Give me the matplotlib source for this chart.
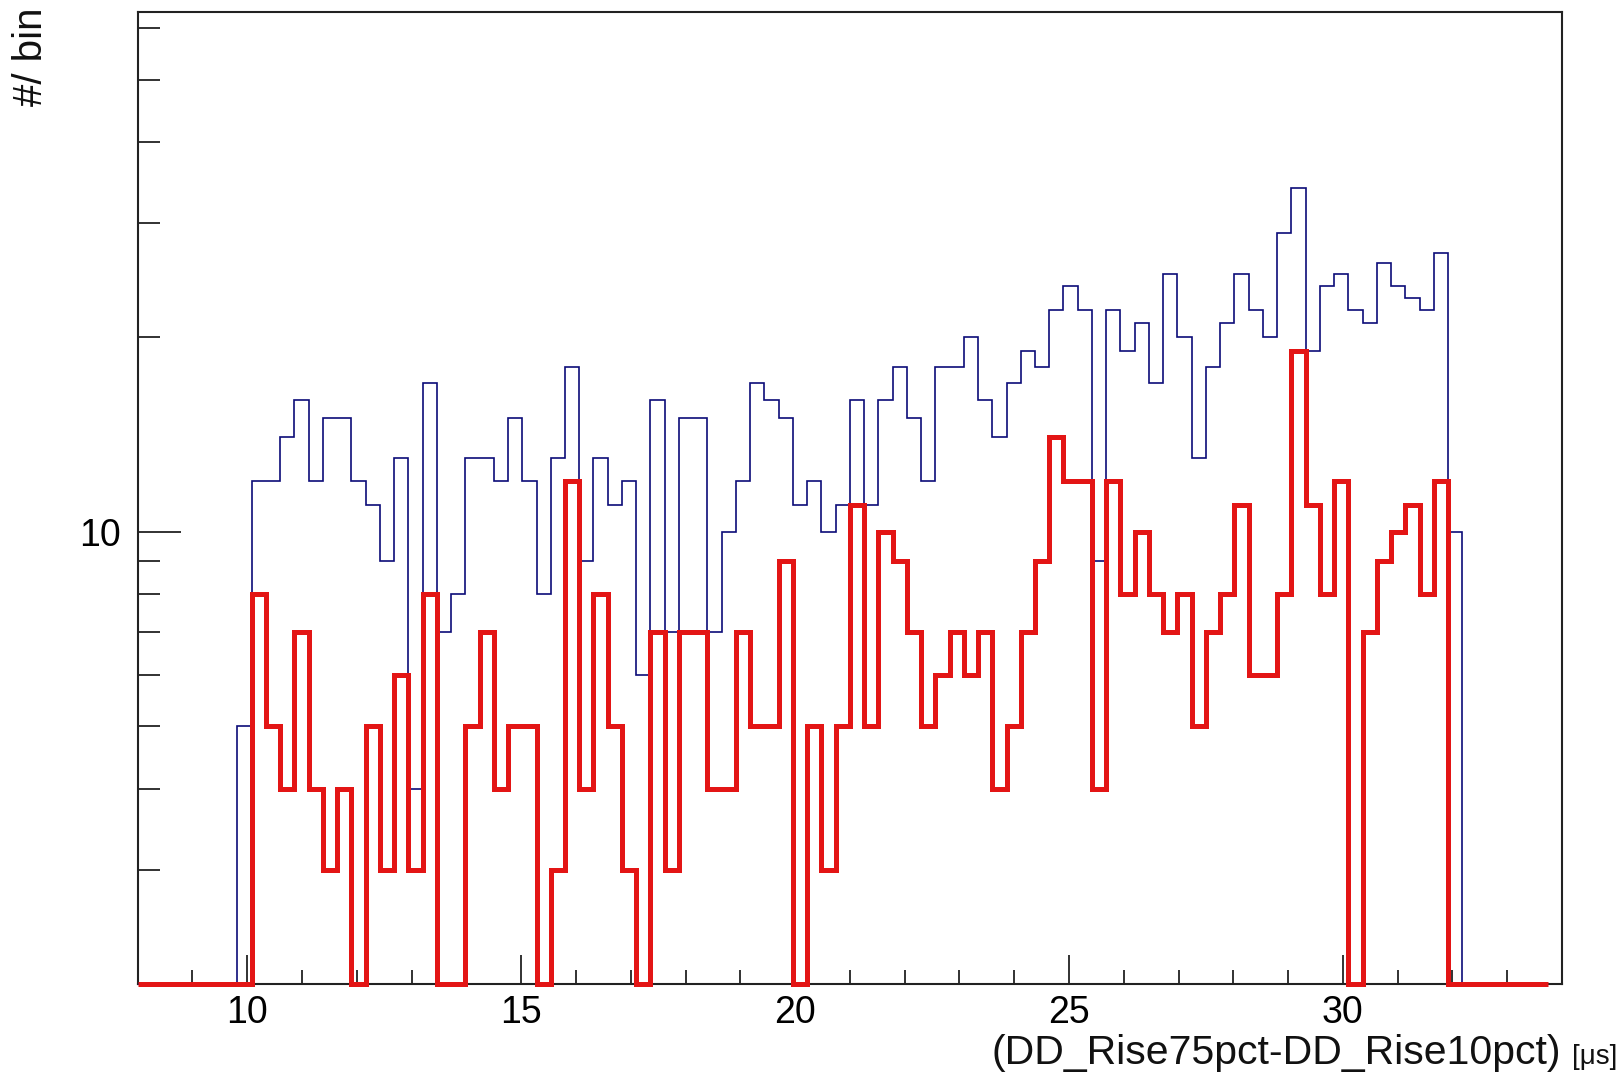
import numpy as np
import matplotlib
matplotlib.use("Agg")
import matplotlib.pyplot as plt
from matplotlib.ticker import MultipleLocator, NullFormatter

plt.rcParams['font.family'] = ['Liberation Sans', 'DejaVu Sans']

# binning of the histograms (us)
x_lo = 8.0
bin_w = 0.26

# counts per bin (log y)
blue_counts = [0, 0, 0, 0, 0, 0, 0, 5, 12, 12,
               14, 16, 12, 15, 15, 12, 11, 9, 13, 4,
               17, 7, 8, 13, 13, 12, 15, 12, 8, 13,
               18, 9, 13, 11, 12, 6, 16, 7, 15, 15,
               7, 10, 12, 17, 16, 15, 11, 12, 10, 11,
               16, 11, 16, 18, 15, 12, 18, 18, 20, 16,
               14, 17, 19, 18, 22, 24, 22, 9, 22, 19,
               21, 17, 25, 20, 13, 18, 21, 25, 22, 20,
               29, 34, 19, 24, 25, 22, 21, 26, 24, 23,
               22, 27, 10, 0, 0, 0, 0, 0, 0]

red_counts = [0, 0, 0, 0, 0, 0, 0, 0, 8, 5,
              4, 7, 4, 3, 4, 0, 5, 3, 6, 3,
              8, 0, 0, 5, 7, 4, 5, 5, 0, 3,
              12, 4, 8, 5, 3, 0, 7, 3, 7, 7,
              4, 4, 7, 5, 5, 9, 0, 5, 3, 5,
              11, 5, 10, 9, 7, 5, 6, 7, 6, 7,
              4, 5, 7, 9, 14, 12, 12, 4, 12, 8,
              10, 8, 7, 8, 5, 7, 8, 11, 6, 6,
              8, 19, 11, 8, 12, 0, 7, 9, 10, 11,
              8, 12, 0, 0, 0, 0, 0, 0, 0]

y_min, y_max = 2, 63.5
x_range = (8, 34)

edges = x_lo + bin_w * np.arange(len(blue_counts) + 1)

fig = plt.figure(figsize=(16.24, 10.75), dpi=100)
ax = fig.add_axes([0.0848, 0.0847, 0.8770, 0.9038])

# empty bins sit on the axis floor like in ROOT
ax.stairs(np.maximum(blue_counts, y_min), edges, baseline=None,
          color='#0c0c78', lw=1.2, clip_on=False, zorder=3)
ax.stairs(np.maximum(red_counts, y_min), edges, baseline=None,
          color='#e31515', lw=3.6, clip_on=False, zorder=4)

ax.set_yscale('log')
ax.set_xlim(*x_range)
ax.set_ylim(y_min, y_max)

ax.set_yticks([10])
ax.set_yticklabels(['10'])
ax.set_yticks([3, 4, 5, 6, 7, 8, 9, 20, 30, 40, 50, 60], minor=True)
ax.yaxis.set_minor_formatter(NullFormatter())
ax.xaxis.set_major_locator(MultipleLocator(5))
ax.xaxis.set_minor_locator(MultipleLocator(1))

for s in ax.spines.values():
    s.set_linewidth(1.5)
    s.set_color('#222222')

ax.tick_params(axis='both', which='both', direction='in', top=False, right=False,
               width=1.3, color='#222222', labelsize=27)
ax.tick_params(axis='y', which='major', length=31, pad=12)
ax.tick_params(axis='y', which='minor', length=16)
ax.tick_params(axis='x', which='major', length=21, pad=8)
ax.tick_params(axis='x', which='minor', length=10)

fig.text(0.961, 1 - 1064 / 1075, '(DD_Rise75pct-DD_Rise10pct)', ha='right',
         va='baseline', fontsize=29.5, color='#111111')
fig.text(0.996, 1 - 1064 / 1075, '[\u03bcs]', ha='right', va='baseline',
         fontsize=20, color='#111111')
fig.text(31 / 1624, 1 - 8 / 1075, '#/ bin', rotation=90, ha='center', va='top',
         fontsize=29, color='#111111')

fig.savefig('out.png', dpi=100)
